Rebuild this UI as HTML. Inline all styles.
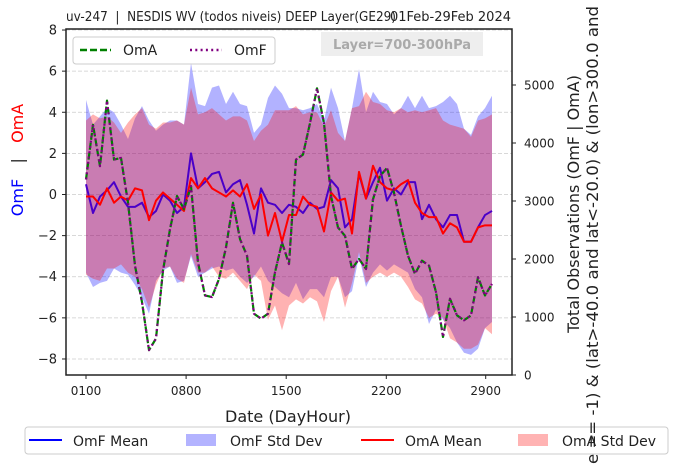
<!DOCTYPE html>
<html><head><meta charset="utf-8"><style>
body{margin:0;background:#fff;}
svg{display:block;font-family:"DejaVu Sans","Liberation Sans",sans-serif;}
text{white-space:pre;}
</style></head><body>
<svg id="chart" width="679" height="464" viewBox="0 0 679 464" xmlns="http://www.w3.org/2000/svg">
<text x="66" y="21" font-size="13" fill="#222" textLength="330" lengthAdjust="spacingAndGlyphs">uv-247  |  NESDIS WV (todos niveis) DEEP Layer(GE29)</text>
<text x="511" y="21" font-size="13" fill="#222" text-anchor="end">01Feb-29Feb 2024</text>
<g id="plot"></g>
<text x="288" y="422" font-size="16" fill="#222" text-anchor="middle">Date (DayHour)</text>
<text transform="translate(23,160) rotate(-90)" font-size="16" text-anchor="middle"><tspan fill="#0000ff">OmF</tspan><tspan fill="#222">   |   </tspan><tspan fill="#ff0000">OmA</tspan></text>
<g>
<rect x="25" y="427" width="643" height="27" rx="3" fill="#fff" stroke="#ccc"/>
<line x1="29" y1="440" x2="62" y2="440" stroke="#0000ff" stroke-width="2"/>
<text x="73" y="446" font-size="14" fill="#222">OmF Mean</text>
<rect x="186" y="434" width="30" height="12" fill="#b3b3ff"/>
<text x="230" y="446" font-size="14" fill="#222">OmF Std Dev</text>
<line x1="361" y1="440" x2="394" y2="440" stroke="#ff0000" stroke-width="2"/>
<text x="405" y="446" font-size="14" fill="#222">OmA Mean</text>
<rect x="518" y="434" width="30" height="12" fill="#ffb3b3"/>
<text x="562" y="446" font-size="14" fill="#222">OmA Std Dev</text>
</g>
<text transform="translate(579,204) rotate(-90)" font-size="16" fill="#222" text-anchor="middle">Total Observations (OmF | OmA)</text>
<text transform="translate(598,464) rotate(-90)" font-size="16" fill="#222" textLength="458" lengthAdjust="spacingAndGlyphs">e == -1) &amp; (lat&gt;-40.0 and lat&lt;-20.0) &amp; (lon&gt;300.0 and</text>
</svg>
<script>
const xTickLabels=["0100","0800","1500","2200","2900"];
const xTickIdx=[0,14.3,28.6,42.9,57.1];
const yTicks=[-8,-6,-4,-2,0,2,4,6,8];
const y2Ticks=[0,1000,2000,3000,4000,5000];
const omfMean=[0.5,-0.9,-0.1,0.2,0.6,-0.1,-0.6,-0.6,-0.4,-1.1,-0.8,0,-0.3,-0.9,-0.6,2.0,0.3,0.6,1.0,1.1,0.1,0.5,0.7,-0.5,-1.9,0.3,-0.4,-0.5,-0.9,-0.5,-0.6,-0.9,-0.4,-0.7,-0.6,0.7,0.3,-1.6,-1.2,1.0,-0.2,0.6,1.3,-0.3,0.3,0,0.6,0.6,-1.2,-0.5,-1.2,-1.6,-1.0,-1.0,-2.3,-2.3,-1.6,-1.0,-0.8];
const omaMean=[-0.1,-0.1,-0.5,0.3,-0.4,-0.1,-0.3,0.3,0.2,-1.25,-0.3,0.1,-0.2,-0.5,-0.8,0.8,0.3,0.8,0.3,0.1,-0.1,0.2,-0.1,0.5,-0.7,0,-2.0,-0.9,-2.3,-1.0,-1.0,-0.1,-0.5,-0.6,-1.8,0.1,-0.3,-0.2,-1.9,1.1,-0.2,1.4,0.6,0.3,0.2,0.5,0.7,-0.4,-0.9,-1.1,-1.1,-1.9,-1.4,-1.6,-2.3,-2.3,-1.6,-1.5,-1.5];
const omfUpper=[4.6,3.4,3.8,4.2,4.0,3.4,2.7,3.7,4.3,3.6,3.1,3.4,3.6,3.6,3.4,6.4,4.4,4.3,5.2,5.3,4.4,5.0,4.4,4.3,3.0,3.4,4.7,5.3,4.9,4.2,4.2,4.1,4.2,4.4,3.6,5.2,4.2,2.6,4.2,6.1,4.0,5.0,4.5,4.4,3.9,4.2,4.8,4.2,4.8,4.2,4.3,4.5,4.8,4.4,3.2,2.9,3.8,4.2,4.8];
const omfLower=[-3.8,-4.5,-4.3,-4.2,-3.6,-3.8,-3.9,-4.4,-5.0,-5.8,-4.2,-3.7,-3.5,-4.3,-4.2,-3.0,-4.0,-3.8,-3.6,-3.5,-3.7,-3.6,-4.0,-4.3,-4.0,-3.5,-4.2,-4.5,-4.8,-5.0,-4.3,-5.1,-4.6,-4.6,-5.0,-4.0,-4.0,-5.0,-4.7,-3.0,-4.5,-3.8,-3.4,-3.7,-3.4,-3.6,-3.8,-4.6,-5.0,-6.3,-5.6,-6.1,-6.5,-7.2,-7.7,-7.8,-7.5,-6.5,-6.2];
const omaUpper=[3.6,3.9,3.7,3.8,3.5,3.0,3.5,3.9,4.2,3.4,3.2,3.5,3.5,3.6,3.4,5.2,3.9,4.0,4.2,3.9,3.6,3.8,3.8,3.6,2.6,3.1,3.4,4.1,4.1,4.1,4.3,3.9,4.0,4.0,3.3,4.1,3.0,2.6,4.2,4.3,5.0,4.5,4.4,4.1,4.0,4.2,4.0,4.1,4.0,4.1,4.2,3.6,3.4,3.3,3.2,2.8,3.6,3.7,3.9];
const omaLower=[-3.9,-4.1,-4.2,-3.6,-3.6,-3.4,-3.8,-4.0,-4.6,-5.5,-4.4,-3.6,-3.5,-4.1,-4.3,-2.9,-3.8,-3.8,-3.5,-4.0,-4.1,-3.8,-4.2,-4.6,-3.9,-4.2,-6.1,-5.4,-6.6,-5.4,-5.1,-5.3,-5.0,-5.2,-6.2,-4.7,-4.0,-5.5,-4.3,-2.8,-4.3,-4.0,-3.8,-4.0,-3.8,-4.0,-4.5,-5.1,-5.3,-6.0,-5.8,-6.0,-7.0,-7.2,-7.5,-7.5,-7.3,-6.5,-6.8];
const countOmA=[3371,4314,3600,4731,3714,3743,2971,1886,1257,429,629,1800,2514,3086,2857,3257,1943,1371,1343,1657,2200,2971,2343,2057,1057,971,1057,1771,2286,1914,3714,3800,4343,4943,4343,3086,2543,2400,1829,2000,1829,3029,3429,3571,3143,2571,2057,1743,1971,1886,1429,657,1314,1029,943,1029,1686,1371,1571];
const countOmF=countOmA.slice();

const NS="http://www.w3.org/2000/svg";
const L=66,R=512,T=29,B=375;
const xs=i=>86+i*7;
const ys=v=>194.5-v*20.56;
const y2s=v=>375-v*0.058;
const g=document.getElementById('plot');
function mk(tag,attrs,parent){const e=document.createElementNS(NS,tag);for(const k in attrs)e.setAttribute(k,attrs[k]);(parent||g).appendChild(e);return e;}
yTicks.forEach(v=>{
  const ln=mk('line',{x1:L,x2:R,y1:ys(v),y2:ys(v),stroke:'#ccc','stroke-width':0.8,'stroke-dasharray':'4,2'});
  
  
});
function band(up,lo,color,name){
  let d='M'+up.map((v,i)=>xs(i)+','+ys(v)).join('L');
  for(let i=lo.length-1;i>=0;i--)d+='L'+xs(i)+','+ys(lo[i]);
  const p=mk('path',{d:d+'Z',fill:color,'fill-opacity':0.3});
  
  
}
band(omfUpper,omfLower,'#0000ff','omf-std-band');
band(omaUpper,omaLower,'#ff0000','oma-std-band');
function line(arr,sc,color,name,extra){
  const a=Object.assign({d:'M'+arr.map((v,i)=>xs(i)+','+sc(v)).join('L'),fill:'none',stroke:color,'stroke-width':2,'stroke-linejoin':'round'},extra||{});
  const p=mk('path',a);
  
  
}
line(omfMean,ys,'#4a00c8','omf-mean-line');
line(omaMean,ys,'#ff0000','oma-mean-line');
line(countOmA,y2s,'#008000','oma-count-line',{'stroke-dasharray':'7,3','stroke-width':2.2});
line(countOmF,y2s,'#800080','omf-count-line',{'stroke-dasharray':'2,3.3','stroke-width':2.2});
const fr=mk('rect',{x:L,y:T,width:R-L,height:B-T,fill:'none',stroke:'#222','stroke-width':1.5});


yTicks.forEach(v=>{
  mk('line',{x1:L-4,x2:L,y1:ys(v),y2:ys(v),stroke:'#222'});
  const t=mk('text',{x:L-9,y:ys(v)+4.5,'font-size':13,'text-anchor':'end',fill:'#222'});
  t.textContent=(v<0?'\u2212'+(-v):v);
  
  
});
y2Ticks.forEach(v=>{
  mk('line',{x1:R,x2:R+4,y1:y2s(v),y2:y2s(v),stroke:'#222'});
  const t=mk('text',{x:R+12,y:y2s(v)+4.5,'font-size':12,fill:'#222'});
  t.textContent=v;
  
  
});
xTickIdx.forEach((v,i)=>{
  mk('line',{x1:xs(v),x2:xs(v),y1:B,y2:B+4,stroke:'#222'});
  const t=mk('text',{x:xs(v),y:B+20,'font-size':12,'text-anchor':'middle',fill:'#222'});
  t.textContent=xTickLabels[i];
  
  
});
const lb=mk('rect',{x:321,y:32,width:162,height:24,fill:'#eee'});


const lt=mk('text',{x:402,y:49,'font-size':13,'font-weight':'bold','text-anchor':'middle',fill:'#aaa'});
lt.textContent='Layer=700-300hPa';


const lg=mk('g',{});


mk('rect',{x:73,y:37,width:202,height:27,rx:3,fill:'#fff','fill-opacity':0.85,stroke:'#ccc'},lg);
mk('line',{x1:80,x2:111,y1:50,y2:50,stroke:'#008000','stroke-width':2.5,'stroke-dasharray':'7,3'},lg);
const t1=mk('text',{x:123,y:55,'font-size':14,fill:'#222'},lg);t1.textContent='OmA';
mk('line',{x1:190,x2:222,y1:50,y2:50,stroke:'#800080','stroke-width':2.5,'stroke-dasharray':'2,3.3'},lg);
const t2=mk('text',{x:234,y:55,'font-size':14,fill:'#222'},lg);t2.textContent='OmF';
</script>
</body></html>
